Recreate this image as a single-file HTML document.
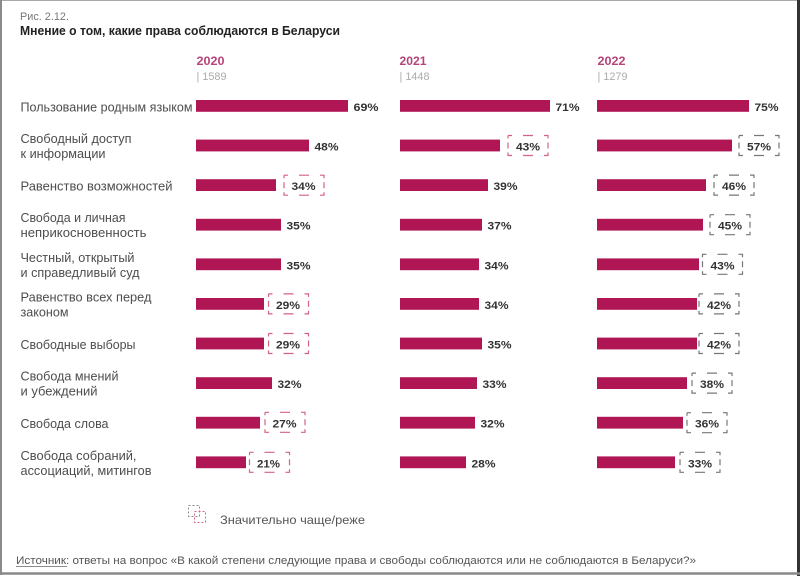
<!DOCTYPE html>
<html><head><meta charset="utf-8">
<style>
html,body{margin:0;padding:0;background:#fff;}
svg{display:block;}
text{font-family:"Liberation Sans","DejaVu Sans",sans-serif;}
.lbl{font-size:12.5px;fill:#4d4d4d;}
.val{font-size:11px;font-weight:bold;fill:#333;}
.bar{fill:#b01653;}
.bxr{fill:none;stroke:#d4637d;stroke-width:1.2;stroke-dasharray:4 11 10 11 7 4 6 4 7 11 10 11 7 4 6 4 3 0;}
.bxg{fill:none;stroke:#777;stroke-width:1.2;stroke-dasharray:4 11 10 11 7 4 6 4 7 11 10 11 7 4 6 4 3 0;}
.yr{font-size:11.5px;font-weight:bold;fill:#b5447a;}
.n{font-size:11px;fill:#aaa;}
</style></head><body>
<svg width="800" height="576" viewBox="0 0 800 576" xmlns="http://www.w3.org/2000/svg">
<rect x="0" y="0" width="800" height="576" fill="#fff"/>
<!-- frame -->
<line x1="0" y1="0.5" x2="800" y2="0.5" stroke="#aaa" stroke-width="1"/>
<line x1="1" y1="0" x2="1" y2="575" stroke="#8a8a8a" stroke-width="2"/>
<line x1="798.5" y1="0" x2="798.5" y2="576" stroke="#333" stroke-width="3"/>
<line x1="0" y1="573.5" x2="800" y2="573.5" stroke="#888" stroke-width="2.5"/>

<!-- titles -->
<text x="20" y="20" font-size="11" fill="#777" textLength="49" lengthAdjust="spacingAndGlyphs">Рис. 2.12.</text>
<text x="20" y="35" font-size="13" font-weight="bold" fill="#222" textLength="320" lengthAdjust="spacingAndGlyphs">Мнение о том, какие права соблюдаются в Беларуси</text>

<!-- years -->
<text class="yr" x="196.5" y="65" textLength="28" lengthAdjust="spacingAndGlyphs">2020</text>
<text class="n" x="196.5" y="80" textLength="30" lengthAdjust="spacingAndGlyphs">| 1589</text>
<text class="yr" x="399.5" y="65" textLength="27" lengthAdjust="spacingAndGlyphs">2021</text>
<text class="n" x="399.5" y="80" textLength="30" lengthAdjust="spacingAndGlyphs">| 1448</text>
<text class="yr" x="597.5" y="65" textLength="28" lengthAdjust="spacingAndGlyphs">2022</text>
<text class="n" x="597.5" y="80" textLength="30" lengthAdjust="spacingAndGlyphs">| 1279</text>

<!-- row labels -->
<text class="lbl" x="20.5" y="111.5" textLength="172" lengthAdjust="spacingAndGlyphs">Пользование родным языком</text>
<text class="lbl" x="20.5" y="143" textLength="111" lengthAdjust="spacingAndGlyphs">Свободный доступ</text>
<text class="lbl" x="20.5" y="158" textLength="85" lengthAdjust="spacingAndGlyphs">к информации</text>
<text class="lbl" x="20.5" y="190.6" textLength="152" lengthAdjust="spacingAndGlyphs">Равенство возможностей</text>
<text class="lbl" x="20.5" y="222.2" textLength="105" lengthAdjust="spacingAndGlyphs">Свобода и личная</text>
<text class="lbl" x="20.5" y="237.2" textLength="126" lengthAdjust="spacingAndGlyphs">неприкосновенность</text>
<text class="lbl" x="20.5" y="261.8" textLength="114" lengthAdjust="spacingAndGlyphs">Честный, открытый</text>
<text class="lbl" x="20.5" y="276.8" textLength="119" lengthAdjust="spacingAndGlyphs">и справедливый суд</text>
<text class="lbl" x="20.5" y="301.4" textLength="131" lengthAdjust="spacingAndGlyphs">Равенство всех перед</text>
<text class="lbl" x="20.5" y="316.4" textLength="48" lengthAdjust="spacingAndGlyphs">законом</text>
<text class="lbl" x="20.5" y="349" textLength="115" lengthAdjust="spacingAndGlyphs">Свободные выборы</text>
<text class="lbl" x="20.5" y="380.6" textLength="98" lengthAdjust="spacingAndGlyphs">Свобода мнений</text>
<text class="lbl" x="20.5" y="395.6" textLength="77" lengthAdjust="spacingAndGlyphs">и убеждений</text>
<text class="lbl" x="20.5" y="428.2" textLength="88" lengthAdjust="spacingAndGlyphs">Свобода слова</text>
<text class="lbl" x="20.5" y="459.8" textLength="116" lengthAdjust="spacingAndGlyphs">Свобода собраний,</text>
<text class="lbl" x="20.5" y="474.8" textLength="131" lengthAdjust="spacingAndGlyphs">ассоциаций, митингов</text>

<!-- 2020 bars -->
<rect class="bar" x="196" y="100" width="152" height="11.8"/>
<rect class="bar" x="196" y="139.6" width="113" height="11.8"/>
<rect class="bar" x="196" y="179.2" width="80" height="11.8"/>
<rect class="bar" x="196" y="218.8" width="85" height="11.8"/>
<rect class="bar" x="196" y="258.4" width="85" height="11.8"/>
<rect class="bar" x="196" y="298" width="68" height="11.8"/>
<rect class="bar" x="196" y="337.6" width="68" height="11.8"/>
<rect class="bar" x="196" y="377.2" width="76" height="11.8"/>
<rect class="bar" x="196" y="416.8" width="64" height="11.8"/>
<rect class="bar" x="196" y="456.4" width="50" height="11.8"/>

<!-- 2021 bars -->
<rect class="bar" x="400" y="100" width="150" height="11.8"/>
<rect class="bar" x="400" y="139.6" width="100" height="11.8"/>
<rect class="bar" x="400" y="179.2" width="88" height="11.8"/>
<rect class="bar" x="400" y="218.8" width="82" height="11.8"/>
<rect class="bar" x="400" y="258.4" width="79" height="11.8"/>
<rect class="bar" x="400" y="298" width="79" height="11.8"/>
<rect class="bar" x="400" y="337.6" width="82" height="11.8"/>
<rect class="bar" x="400" y="377.2" width="77" height="11.8"/>
<rect class="bar" x="400" y="416.8" width="75" height="11.8"/>
<rect class="bar" x="400" y="456.4" width="66" height="11.8"/>

<!-- 2022 bars -->
<rect class="bar" x="597" y="100" width="152" height="11.8"/>
<rect class="bar" x="597" y="139.6" width="135" height="11.8"/>
<rect class="bar" x="597" y="179.2" width="109" height="11.8"/>
<rect class="bar" x="597" y="218.8" width="106" height="11.8"/>
<rect class="bar" x="597" y="258.4" width="102" height="11.8"/>
<rect class="bar" x="597" y="298" width="100" height="11.8"/>
<rect class="bar" x="597" y="337.6" width="100" height="11.8"/>
<rect class="bar" x="597" y="377.2" width="90" height="11.8"/>
<rect class="bar" x="597" y="416.8" width="86" height="11.8"/>
<rect class="bar" x="597" y="456.4" width="78" height="11.8"/>

<!-- 2020 values -->
<text class="val" x="353.5" y="111" textLength="25" lengthAdjust="spacingAndGlyphs">69%</text>
<text class="val" x="314.5" y="150.5" textLength="24" lengthAdjust="spacingAndGlyphs">48%</text>
<rect class="bxr" x="284" y="175.2" width="40" height="20"/>
<text class="val" x="291.5" y="190.1" textLength="24" lengthAdjust="spacingAndGlyphs">34%</text>
<text class="val" x="286.5" y="229.7" textLength="24" lengthAdjust="spacingAndGlyphs">35%</text>
<text class="val" x="286.5" y="269.3" textLength="24" lengthAdjust="spacingAndGlyphs">35%</text>
<rect class="bxr" x="268.5" y="293.9" width="40" height="20"/>
<text class="val" x="276" y="308.9" textLength="24" lengthAdjust="spacingAndGlyphs">29%</text>
<rect class="bxr" x="268.5" y="333.5" width="40" height="20"/>
<text class="val" x="276" y="348.5" textLength="24" lengthAdjust="spacingAndGlyphs">29%</text>
<text class="val" x="277.5" y="388.1" textLength="24" lengthAdjust="spacingAndGlyphs">32%</text>
<rect class="bxr" x="265" y="412.3" width="40" height="20"/>
<text class="val" x="272.5" y="427.7" textLength="24" lengthAdjust="spacingAndGlyphs">27%</text>
<rect class="bxr" x="249.5" y="452.3" width="40" height="20"/>
<text class="val" x="257" y="467.3" textLength="23" lengthAdjust="spacingAndGlyphs">21%</text>

<!-- 2021 values -->
<text class="val" x="555.5" y="111" textLength="24" lengthAdjust="spacingAndGlyphs">71%</text>
<rect class="bxr" x="508" y="135.5" width="40" height="20"/>
<text class="val" x="516" y="150.5" textLength="24" lengthAdjust="spacingAndGlyphs">43%</text>
<text class="val" x="493.5" y="190.1" textLength="24" lengthAdjust="spacingAndGlyphs">39%</text>
<text class="val" x="487.5" y="229.7" textLength="24" lengthAdjust="spacingAndGlyphs">37%</text>
<text class="val" x="484.5" y="269.3" textLength="24" lengthAdjust="spacingAndGlyphs">34%</text>
<text class="val" x="484.5" y="308.9" textLength="24" lengthAdjust="spacingAndGlyphs">34%</text>
<text class="val" x="487.5" y="348.5" textLength="24" lengthAdjust="spacingAndGlyphs">35%</text>
<text class="val" x="482.5" y="388.1" textLength="24" lengthAdjust="spacingAndGlyphs">33%</text>
<text class="val" x="480.5" y="427.7" textLength="24" lengthAdjust="spacingAndGlyphs">32%</text>
<text class="val" x="471.5" y="467.3" textLength="24" lengthAdjust="spacingAndGlyphs">28%</text>

<!-- 2022 values -->
<text class="val" x="754.5" y="111" textLength="24" lengthAdjust="spacingAndGlyphs">75%</text>
<rect class="bxg" x="739" y="135.5" width="40" height="20"/>
<text class="val" x="747" y="150.5" textLength="24" lengthAdjust="spacingAndGlyphs">57%</text>
<rect class="bxg" x="714" y="175.1" width="40" height="20"/>
<text class="val" x="722" y="190.1" textLength="24" lengthAdjust="spacingAndGlyphs">46%</text>
<rect class="bxg" x="710" y="214.7" width="40" height="20"/>
<text class="val" x="718" y="229.7" textLength="24" lengthAdjust="spacingAndGlyphs">45%</text>
<rect class="bxg" x="702.5" y="254.3" width="40" height="20"/>
<text class="val" x="710.5" y="269.3" textLength="24" lengthAdjust="spacingAndGlyphs">43%</text>
<rect class="bxg" x="699" y="293.9" width="40" height="20"/>
<text class="val" x="707" y="308.9" textLength="24" lengthAdjust="spacingAndGlyphs">42%</text>
<rect class="bxg" x="699" y="333.5" width="40" height="20"/>
<text class="val" x="707" y="348.5" textLength="24" lengthAdjust="spacingAndGlyphs">42%</text>
<rect class="bxg" x="692" y="373.1" width="40" height="20"/>
<text class="val" x="700" y="388.1" textLength="24" lengthAdjust="spacingAndGlyphs">38%</text>
<rect class="bxg" x="687" y="412.7" width="40" height="20"/>
<text class="val" x="695" y="427.7" textLength="24" lengthAdjust="spacingAndGlyphs">36%</text>
<rect class="bxg" x="680" y="452.3" width="40" height="20"/>
<text class="val" x="688" y="467.3" textLength="24" lengthAdjust="spacingAndGlyphs">33%</text>

<!-- legend -->
<rect x="188.5" y="505.5" width="11" height="11" fill="none" stroke="#888" stroke-width="1" stroke-dasharray="2 2"/>
<rect x="194.5" y="511.5" width="11" height="11" fill="none" stroke="#d4637d" stroke-width="1" stroke-dasharray="2 2"/>
<text x="220" y="524" font-size="12" fill="#555" textLength="145" lengthAdjust="spacingAndGlyphs">Значительно чаще/реже</text>

<!-- source -->
<text x="16" y="564" font-size="11" fill="#555" textLength="680" lengthAdjust="spacingAndGlyphs">Источник: ответы на вопрос «В какой степени следующие права и свободы соблюдаются или не соблюдаются в Беларуси?»</text>
<line x1="16" y1="566.5" x2="67" y2="566.5" stroke="#666" stroke-width="0.8"/>
</svg>
</body></html>
